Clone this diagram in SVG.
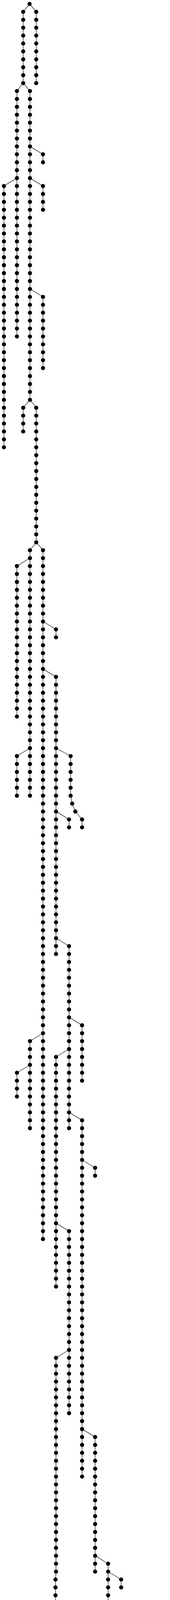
<svg xmlns="http://www.w3.org/2000/svg" width="435" height="6506" viewBox="0 0 435 6506">
<style>
.c{fill:none;stroke:#222;stroke-width:1.3;stroke-linejoin:round}
.d{stroke:#000;stroke-width:10.6;stroke-linecap:round;stroke-dasharray:0.01 20.25875;fill:none}
circle{fill:#000}
</style>
<rect width="435" height="6506" fill="#fff"/>
<g id="connectors">
<path class="c" d="M75.67,10 L59.33,30.27 V212.69"/>
<path class="c" d="M75.67,10 L92.67,30.27 V212.69"/>
<path class="c" d="M59.33,212.69 L43.33,232.96 V861.29"/>
<path class="c" d="M59.33,212.69 L76.67,232.96 V1023.44"/>
<path class="c" d="M43.33,455.91 L10,476.18 V1145.05"/>
<path class="c" d="M76.67,374.84 L110,395.11 V415.38"/>
<path class="c" d="M76.67,455.91 L110,476.18 V536.99"/>
<path class="c" d="M76.67,739.68 L110,759.94 V942.36"/>
<path class="c" d="M76.67,1023.44 L59.33,1043.71 V1104.51"/>
<path class="c" d="M76.67,1023.44 L92.67,1043.71 V1388.28"/>
<path class="c" d="M92.67,1388.28 L76.67,1408.54 V2036.88"/>
<path class="c" d="M92.67,1388.28 L110,1408.54 V3171.93"/>
<path class="c" d="M76.67,1428.81 L43.33,1449.08 V1834.19"/>
<path class="c" d="M110,1590.96 L143.33,1611.23 V1631.5"/>
<path class="c" d="M110,1712.58 L143.33,1732.84 V2442.25"/>
<path class="c" d="M76.67,1915.26 L43.33,1935.53 V2036.88"/>
<path class="c" d="M143.33,1915.26 L180.67,1935.53 V2036.88 L184.67,2057.14 L192.67,2077.41 L210,2097.68 V2117.95"/>
<path class="c" d="M143.33,2077.41 L176.67,2097.68 V2117.95"/>
<path class="c" d="M143.33,2401.71 L176.67,2421.98 V2888.16"/>
<path class="c" d="M176.67,2604.4 L210,2624.67 V2766.55"/>
<path class="c" d="M176.67,2685.48 L143.33,2705.74 V3293.54"/>
<path class="c" d="M110,2644.94 L76.67,2665.21 V2888.16"/>
<path class="c" d="M76.67,2726.01 L43.33,2746.28 V2807.09"/>
<path class="c" d="M176.67,2847.63 L210,2867.89 V3779.99"/>
<path class="c" d="M210,2969.24 L243.33,2989.51 V3009.78"/>
<path class="c" d="M143.33,3131.39 L176.67,3151.66 V3617.84"/>
<path class="c" d="M176.67,3455.69 L143.33,3475.96 V4023.21 L142,4043.48 V4590.74"/>
<path class="c" d="M210,3658.38 L243.33,3678.64 V4023.21"/>
<path class="c" d="M243.33,3982.68 L276.67,4002.94 V4104.29 L278,4124.56 L279.33,4144.83 L283.33,4165.09 L291.33,4185.36 V4225.9"/>
<path class="c" d="M276.67,4023.21 L310,4043.48 V4063.75"/>
<path class="c" d="M291.33,4185.36 L332.67,4205.63 L336.67,4225.9 L343.33,4246.17 V4266.44 L344.67,4286.71 L346,4306.98 L354,4327.24 L370,4347.51 L375.33,4367.78 V4631.28"/>
<path class="c" d="M291.33,4225.9 L275.33,4246.17 V4327.24 L259.33,4347.51 L251.33,4367.78 L247.33,4388.05 L244.67,4408.32 L243.33,4428.59 V4590.74 L242,4611.01 V4671.81"/>
<path class="c" d="M291.33,4225.9 L308.67,4246.17 V4996.11"/>
<path class="c" d="M142,4306.98 L107.33,4327.24 L91.33,4347.51 L83.33,4367.78 L79.33,4388.05 L76.67,4408.32 L75.33,4428.59 V4752.89"/>
<path class="c" d="M142,4550.2 L108.67,4570.47 V4590.74"/>
<path class="c" d="M142,4590.74 L108.67,4611.01 V4631.28"/>
<path class="c" d="M75.33,4631.28 L108.67,4651.54 V4793.43"/>
<path class="c" d="M308.67,4347.51 L342,4367.78 V4509.66"/>
<path class="c" d="M243.33,4509.66 L208.67,4529.93 V4793.43"/>
<path class="c" d="M208.67,4550.2 L175.33,4570.47 V4590.74"/>
<path class="c" d="M175.33,4590.74 L142,4611.01 V5158.26"/>
<path class="c" d="M208.67,4590.74 L175.33,4611.01 V4813.69 L176.67,4833.96 V4874.5 L178,4894.77 V5117.73"/>
<path class="c" d="M243.33,4590.74 L275.33,4611.01 V5442.03"/>
<path class="c" d="M308.67,4590.74 L342,4611.01 V4833.96"/>
<path class="c" d="M375.33,4590.74 L408.67,4611.01 V4631.28"/>
<path class="c" d="M408.67,4631.28 L391.33,4651.54 V4712.35"/>
<path class="c" d="M408.67,4631.28 L424.67,4651.54 V4712.35"/>
<path class="c" d="M342,4793.43 L375.33,4813.69 V4915.04"/>
<path class="c" d="M178,5036.65 L227.33,5056.92 L235.33,5077.19 L239.33,5097.46 L240.67,5117.73 L242,5137.99 V5158.26"/>
<path class="c" d="M142,5117.73 L108.67,5137.99 V5279.88"/>
<path class="c" d="M178,5117.73 L175.33,5137.99 V5198.8"/>
<path class="c" d="M178,5117.73 L208.67,5137.99 V5482.56"/>
<path class="c" d="M275.33,5117.73 L308.67,5137.99 V5239.34"/>
<path class="c" d="M308.67,5198.8 L342,5219.07 V5320.41"/>
<path class="c" d="M342,5320.41 L326,5340.68 V5360.95"/>
<path class="c" d="M342,5320.41 L359.33,5340.68 V5360.95"/>
<path class="c" d="M108.67,5279.88 L92.67,5300.14 V6496"/>
<path class="c" d="M108.67,5279.88 L126,5300.14 V6455.46"/>
<path class="c" d="M126,5482.56 L159.33,5502.83 V5563.64"/>
<path class="c" d="M208.67,5482.56 L200.67,5502.83 V5766.33"/>
<path class="c" d="M208.67,5482.56 L234,5502.83 V5563.64"/>
<path class="c" d="M234,5523.1 L267.33,5543.37 V5563.64"/>
</g>
<g id="nodes">
<g id="n-root"><circle cx="75.67" cy="10" r="5.3"/></g>
<g id="n-a"><line class="d" x1="59.33" y1="30.27" x2="59.33" y2="213.69"/></g>
<g id="n-b"><line class="d" x1="92.67" y1="30.27" x2="92.67" y2="213.69"/></g>
<g id="n-c"><line class="d" x1="43.33" y1="232.96" x2="43.33" y2="862.29"/></g>
<g id="n-d"><line class="d" x1="76.67" y1="232.96" x2="76.67" y2="1024.44"/></g>
<g id="n-e"><line class="d" x1="10" y1="476.18" x2="10" y2="1146.05"/></g>
<g id="n-f"><line class="d" x1="110" y1="395.11" x2="110" y2="416.38"/></g>
<g id="n-g"><line class="d" x1="110" y1="476.18" x2="110" y2="537.99"/></g>
<g id="n-h"><line class="d" x1="110" y1="759.94" x2="110" y2="943.36"/></g>
<g id="n-i"><line class="d" x1="59.33" y1="1043.71" x2="59.33" y2="1105.51"/></g>
<g id="n-j"><line class="d" x1="92.67" y1="1043.71" x2="92.67" y2="1389.28"/></g>
<g id="n-k"><line class="d" x1="76.67" y1="1408.54" x2="76.67" y2="2037.88"/></g>
<g id="n-l"><line class="d" x1="110" y1="1408.54" x2="110" y2="3172.93"/></g>
<g id="n-m"><line class="d" x1="43.33" y1="1449.08" x2="43.33" y2="1835.19"/></g>
<g id="n-n"><line class="d" x1="143.33" y1="1611.23" x2="143.33" y2="1632.5"/></g>
<g id="n-o"><line class="d" x1="143.33" y1="1732.84" x2="143.33" y2="2443.25"/></g>
<g id="n-p"><line class="d" x1="43.33" y1="1935.53" x2="43.33" y2="2037.88"/></g>
<g id="n-q"><line class="d" x1="180.67" y1="1935.53" x2="180.67" y2="2037.88"/><circle cx="184.67" cy="2057.14" r="5.3"/><circle cx="192.67" cy="2077.41" r="5.3"/><circle cx="210" cy="2097.68" r="5.3"/><circle cx="210" cy="2117.95" r="5.3"/></g>
<g id="n-r"><line class="d" x1="176.67" y1="2097.68" x2="176.67" y2="2118.95"/></g>
<g id="n-s"><line class="d" x1="176.67" y1="2421.98" x2="176.67" y2="2889.16"/></g>
<g id="n-t"><line class="d" x1="210" y1="2624.67" x2="210" y2="2767.55"/></g>
<g id="n-u"><line class="d" x1="143.33" y1="2705.74" x2="143.33" y2="3294.54"/></g>
<g id="n-v"><line class="d" x1="76.67" y1="2665.21" x2="76.67" y2="2889.16"/></g>
<g id="n-w"><line class="d" x1="43.33" y1="2746.28" x2="43.33" y2="2808.09"/></g>
<g id="n-x"><line class="d" x1="210" y1="2867.89" x2="210" y2="3780.99"/></g>
<g id="n-y"><line class="d" x1="243.33" y1="2989.51" x2="243.33" y2="3010.78"/></g>
<g id="n-z"><line class="d" x1="176.67" y1="3151.66" x2="176.67" y2="3618.84"/></g>
<g id="n-aa"><line class="d" x1="143.33" y1="3475.96" x2="143.33" y2="4024.21"/><line class="d" x1="142" y1="4043.48" x2="142" y2="4591.74"/></g>
<g id="n-ab"><line class="d" x1="243.33" y1="3678.64" x2="243.33" y2="4024.21"/></g>
<g id="n-ac"><line class="d" x1="276.67" y1="4002.94" x2="276.67" y2="4105.29"/><circle cx="278" cy="4124.56" r="5.3"/><circle cx="279.33" cy="4144.83" r="5.3"/><circle cx="283.33" cy="4165.09" r="5.3"/><line class="d" x1="291.33" y1="4185.36" x2="291.33" y2="4226.9"/></g>
<g id="n-ad"><line class="d" x1="310" y1="4043.48" x2="310" y2="4064.75"/></g>
<g id="n-ae"><circle cx="332.67" cy="4205.63" r="5.3"/><circle cx="336.67" cy="4225.9" r="5.3"/><line class="d" x1="343.33" y1="4246.17" x2="343.33" y2="4267.44"/><circle cx="344.67" cy="4286.71" r="5.3"/><circle cx="346" cy="4306.98" r="5.3"/><circle cx="354" cy="4327.24" r="5.3"/><circle cx="370" cy="4347.51" r="5.3"/><line class="d" x1="375.33" y1="4367.78" x2="375.33" y2="4632.28"/></g>
<g id="n-af"><line class="d" x1="275.33" y1="4246.17" x2="275.33" y2="4328.24"/><circle cx="259.33" cy="4347.51" r="5.3"/><circle cx="251.33" cy="4367.78" r="5.3"/><circle cx="247.33" cy="4388.05" r="5.3"/><circle cx="244.67" cy="4408.32" r="5.3"/><line class="d" x1="243.33" y1="4428.59" x2="243.33" y2="4591.74"/><line class="d" x1="242" y1="4611.01" x2="242" y2="4672.81"/></g>
<g id="n-ag"><line class="d" x1="308.67" y1="4246.17" x2="308.67" y2="4997.11"/></g>
<g id="n-ah"><circle cx="107.33" cy="4327.24" r="5.3"/><circle cx="91.33" cy="4347.51" r="5.3"/><circle cx="83.33" cy="4367.78" r="5.3"/><circle cx="79.33" cy="4388.05" r="5.3"/><circle cx="76.67" cy="4408.32" r="5.3"/><line class="d" x1="75.33" y1="4428.59" x2="75.33" y2="4753.89"/></g>
<g id="n-ai"><line class="d" x1="108.67" y1="4570.47" x2="108.67" y2="4591.74"/></g>
<g id="n-aj"><line class="d" x1="108.67" y1="4611.01" x2="108.67" y2="4632.28"/></g>
<g id="n-ak"><line class="d" x1="108.67" y1="4651.54" x2="108.67" y2="4794.43"/></g>
<g id="n-al"><line class="d" x1="342" y1="4367.78" x2="342" y2="4510.66"/></g>
<g id="n-am"><line class="d" x1="208.67" y1="4529.93" x2="208.67" y2="4794.43"/></g>
<g id="n-an"><line class="d" x1="175.33" y1="4570.47" x2="175.33" y2="4591.74"/></g>
<g id="n-ao"><line class="d" x1="142" y1="4611.01" x2="142" y2="5159.26"/></g>
<g id="n-ap"><line class="d" x1="175.33" y1="4611.01" x2="175.33" y2="4814.69"/><line class="d" x1="176.67" y1="4833.96" x2="176.67" y2="4875.5"/><line class="d" x1="178" y1="4894.77" x2="178" y2="5118.73"/></g>
<g id="n-aq"><line class="d" x1="275.33" y1="4611.01" x2="275.33" y2="5443.03"/></g>
<g id="n-ar"><line class="d" x1="342" y1="4611.01" x2="342" y2="4834.96"/></g>
<g id="n-as"><line class="d" x1="408.67" y1="4611.01" x2="408.67" y2="4632.28"/></g>
<g id="n-at"><line class="d" x1="391.33" y1="4651.54" x2="391.33" y2="4713.35"/></g>
<g id="n-au"><line class="d" x1="424.67" y1="4651.54" x2="424.67" y2="4713.35"/></g>
<g id="n-av"><line class="d" x1="375.33" y1="4813.69" x2="375.33" y2="4916.04"/></g>
<g id="n-aw"><circle cx="227.33" cy="5056.92" r="5.3"/><circle cx="235.33" cy="5077.19" r="5.3"/><circle cx="239.33" cy="5097.46" r="5.3"/><circle cx="240.67" cy="5117.73" r="5.3"/><line class="d" x1="242" y1="5137.99" x2="242" y2="5159.26"/></g>
<g id="n-ax"><line class="d" x1="108.67" y1="5137.99" x2="108.67" y2="5280.88"/></g>
<g id="n-ay"><line class="d" x1="175.33" y1="5137.99" x2="175.33" y2="5199.8"/></g>
<g id="n-az"><line class="d" x1="208.67" y1="5137.99" x2="208.67" y2="5483.56"/></g>
<g id="n-ba"><line class="d" x1="308.67" y1="5137.99" x2="308.67" y2="5240.34"/></g>
<g id="n-bb"><line class="d" x1="342" y1="5219.07" x2="342" y2="5321.41"/></g>
<g id="n-bc"><line class="d" x1="326" y1="5340.68" x2="326" y2="5361.95"/></g>
<g id="n-bd"><line class="d" x1="359.33" y1="5340.68" x2="359.33" y2="5361.95"/></g>
<g id="n-be"><line class="d" x1="92.67" y1="5300.14" x2="92.67" y2="6497"/></g>
<g id="n-bf"><line class="d" x1="126" y1="5300.14" x2="126" y2="6456.46"/></g>
<g id="n-bg"><line class="d" x1="159.33" y1="5502.83" x2="159.33" y2="5564.64"/></g>
<g id="n-bh"><line class="d" x1="200.67" y1="5502.83" x2="200.67" y2="5767.33"/></g>
<g id="n-bi"><line class="d" x1="234" y1="5502.83" x2="234" y2="5564.64"/></g>
<g id="n-bj"><line class="d" x1="267.33" y1="5543.37" x2="267.33" y2="5564.64"/></g>
</g>
</svg>
